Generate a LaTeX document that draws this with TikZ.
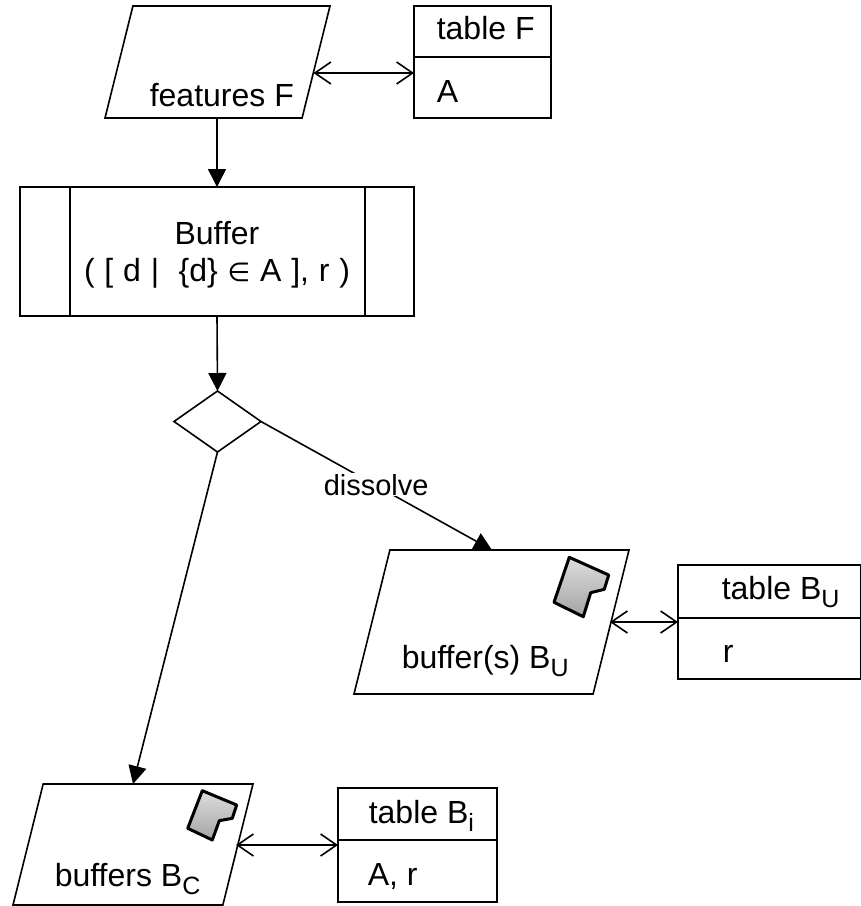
\documentclass[tikz,border=0pt]{standalone}
\usepackage{fontspec}
\setmainfont{Liberation Sans}
\newfontfamily\symfont{DejaVu Sans}
\usetikzlibrary{arrows.meta,shapes.geometric}
\newcommand{\subtext}[1]{\raisebox{-8pt}{\fontsize{25}{25}\selectfont #1}}
\tikzset{
  every path/.style={line width=1.6pt},
  layer/.style={draw,shape=trapezium,trapezium left angle=76,trapezium right angle=104,trapezium stretches body=true,inner sep=0pt,outer sep=0pt},
  cell/.style={draw,rectangle,inner sep=0pt,outer sep=0pt},
  txt/.style={anchor=base west,inner sep=0pt,font=\fontsize{32}{36}\selectfont},
  flow/.style={-{Triangle[length=18pt,width=18pt]}},
  link/.style={{Straight Barb[length=16pt,width=22pt]}-{Straight Barb[length=16pt,width=22pt]}},
  icon/.style={draw,line width=3pt,line join=round,top color=black!13,bottom color=black!36},
}
\begin{document}
\begin{tikzpicture}[x=1pt,y=-1pt]
\useasboundingbox (0,0) rectangle (861,906);
\node[layer,minimum width=225pt] (paraF) at (217.5,62) {\phantom{\rule{1pt}{112pt}}};
\node[cell,minimum width=137pt,minimum height=51pt] (tableFhead) at (482.5,31.5) {};
\node[cell,minimum width=137pt,minimum height=61pt] (tableFbody) at (482.5,87.5) {};
\node[cell,minimum width=394pt,minimum height=129pt] (buffer) at (217,251.5) {};
\draw (70,187) -- (70,316);
\draw (365,187) -- (365,316);
\node[draw,diamond,shape aspect=1.43,inner sep=0pt,outer sep=0pt,minimum width=87pt,minimum height=61pt] (choice) at (217.5,421.5) {};
\node[layer,minimum width=275pt] (paraU) at (491.5,622) {\phantom{\rule{1pt}{144pt}}};
\node[cell,minimum width=183pt,minimum height=53pt] (tableUhead) at (769.5,591.5) {};
\node[cell,minimum width=183pt,minimum height=61pt] (tableUbody) at (769.5,648.5) {};
\node[layer,minimum width=240pt] (paraC) at (133,844.5) {\phantom{\rule{1pt}{121pt}}};
\node[cell,minimum width=159pt,minimum height=52pt] (tableChead) at (417.5,814) {};
\node[cell,minimum width=159pt,minimum height=62pt] (tableCbody) at (417.5,871) {};
\coordinate (endF) at (313.5,73);
\coordinate (endU) at (610,622);
\coordinate (endC) at (236,845);
\coordinate (topU) at (492,550);
\coordinate (topC) at (133,784);
\draw[link] (endF) -- (endF -| tableFbody.west);
\draw[link] (endU) -- (endU -| tableUbody.west);
\draw[link] (endC) -- (endC -| tableCbody.west);
\draw[flow] (buffer.north |- paraF.south) -- (buffer.north);
\draw[flow] (buffer.south) -- (choice.north);
\draw[flow] (choice.south) -- (topC);
\draw[flow] (choice.east) -- (topU);
\draw[icon] (569.3,557.3) -- (608.7,575) -- (604.3,589.3) -- (590.7,592.7) -- (583.3,616.7) -- (554,602.3) -- cycle;
\draw[icon] (202.3,790.7) -- (236.7,805) -- (232.3,818.3) -- (219.3,820.7) -- (212.3,840) -- (187.7,828.3) -- cycle;
\node[txt] (featuresF) at (149,106) {features F};
\node[txt] (headF) at (436,39) {table F};
\node[txt] (bodyF) at (436,102) {A};
\node[txt,anchor=base] (bufferA) at (217,244) {Buffer};
\node[txt,anchor=base] (bufferB) at (217,281) {\spaceskip=9.8pt ( [ d |\ \ \{d\} {\symfont\fontsize{26}{26}\selectfont ∈} A ], r )};
\node[txt,fill=white,inner sep=1pt,font=\fontsize{29}{34}\selectfont] (dissolve) at (322,495) {dissolve};
\node[txt] (buffersU) at (401,668) {buffer(s) B\subtext{U}};
\node[txt] (headU) at (721,599) {table B\subtext{U}};
\node[txt] (bodyU) at (722,662) {r};
\node[txt] (buffersC) at (54,886) {buffers B\subtext{C}};
\node[txt] (headC) at (368,823) {table B\subtext{i}};
\node[txt] (bodyC) at (367,885) {A, r};
\end{tikzpicture}
\end{document}
